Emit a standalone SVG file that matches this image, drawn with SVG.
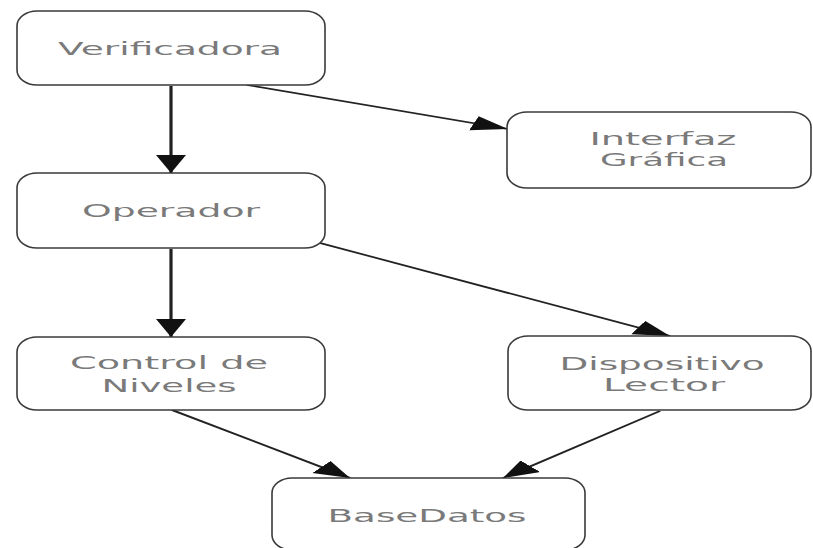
<svg xmlns="http://www.w3.org/2000/svg" width="813" height="548" viewBox="0 0 813 548">
  <style>
    .box { fill: #ffffff; stroke: #3a3a3a; stroke-width: 1.6; }
    .lbl { font-family: "DejaVu Sans", Verdana, sans-serif; font-size: 18px; fill: #7a7a7a; text-anchor: middle; }
    .edge { fill: none; stroke: #222222; stroke-width: 1.6; }
  </style>
  <defs>
    <!-- arrowhead drawn in the half-width space of the connector layer -->
    <marker id="arrow" markerUnits="userSpaceOnUse" markerWidth="20" markerHeight="16" refX="18" refY="7.5" orient="auto">
      <path d="M0,0 L18,7.5 L0,15 Z" fill="#111111"/>
    </marker>
  </defs>
  <rect width="813" height="548" fill="#ffffff"/>

  <!-- connectors live in a horizontally doubled space -->
  <g id="connectors" transform="scale(2,1)">
    <line class="edge" x1="85.5" y1="86" x2="85.5" y2="173" marker-end="url(#arrow)"/>
    <line class="edge" x1="123.5" y1="85" x2="254" y2="129" marker-end="url(#arrow)"/>
    <line class="edge" x1="85.5" y1="249" x2="85.5" y2="337" marker-end="url(#arrow)"/>
    <line class="edge" x1="160" y1="243" x2="335" y2="336" marker-end="url(#arrow)"/>
    <line class="edge" x1="86" y1="410" x2="175" y2="478" marker-end="url(#arrow)"/>
    <line class="edge" x1="330" y1="411" x2="251.5" y2="478" marker-end="url(#arrow)"/>
  </g>

  <g id="verificadora">
    <rect class="box" x="17" y="11" width="308" height="74" rx="20" ry="15"/>
    <text class="lbl" x="170" y="55" textLength="224" lengthAdjust="spacingAndGlyphs">Verificadora</text>
  </g>

  <g id="interfaz-grafica">
    <rect class="box" x="507" y="112" width="304" height="76" rx="20" ry="15"/>
    <text class="lbl" x="663" y="145" textLength="147" lengthAdjust="spacingAndGlyphs">Interfaz</text>
    <text class="lbl" x="664" y="166" textLength="128" lengthAdjust="spacingAndGlyphs">Gráfica</text>
  </g>

  <g id="operador">
    <rect class="box" x="17" y="173" width="308" height="75" rx="20" ry="15"/>
    <text class="lbl" x="171" y="217" textLength="178" lengthAdjust="spacingAndGlyphs">Operador</text>
  </g>

  <g id="control-niveles">
    <rect class="box" x="17" y="337" width="308" height="73" rx="20" ry="15"/>
    <text class="lbl" x="169" y="369" textLength="198" lengthAdjust="spacingAndGlyphs">Control de</text>
    <text class="lbl" x="169" y="392" textLength="135" lengthAdjust="spacingAndGlyphs">Niveles</text>
  </g>

  <g id="dispositivo-lector">
    <rect class="box" x="508" y="336" width="303" height="74" rx="20" ry="15"/>
    <text class="lbl" x="662" y="370" textLength="205" lengthAdjust="spacingAndGlyphs">Dispositivo</text>
    <text class="lbl" x="664" y="391" textLength="122" lengthAdjust="spacingAndGlyphs">Lector</text>
  </g>

  <g id="basedatos">
    <rect class="box" x="272" y="478" width="313" height="72" rx="20" ry="15"/>
    <text class="lbl" x="427" y="522" textLength="199" lengthAdjust="spacingAndGlyphs">BaseDatos</text>
  </g>
</svg>
